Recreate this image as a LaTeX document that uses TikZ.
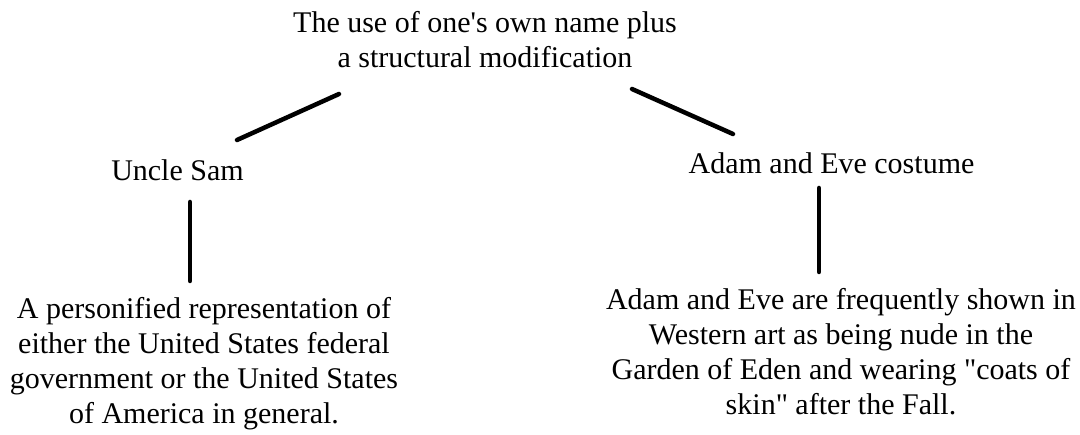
\documentclass[tikz,border=0pt]{standalone}
\usepackage{fontspec}
\setmainfont{Liberation Serif}[Ligatures=TeXOff]
\begin{document}
\begin{tikzpicture}[x=1pt,y=-1pt,
  txt/.style={inner sep=0pt,align=center,font=\fontsize{30}{35}\selectfont},
  conn/.style={line width=4.5pt,line cap=round}]
\useasboundingbox (0,0) rectangle (1080,435);
\node[txt] (top) at (485,40) {The use of one's own name plus\\a structural modification};
\node[txt] (sam) at (177.5,170) {Uncle Sam};
\node[txt] (adam) at (831.5,163) {Adam and Eve costume};
\node[txt] (samd) at (204,364) {A personified representation of\\either the United States federal\\government or the United States\\of America in general.};
\node[txt] (adamd) at (841,352) {Adam and Eve are frequently shown in\\Western art as being nude in the\\Garden of Eden and wearing "coats of\\skin" after the Fall.};
\coordinate (t1) at (339,94);
\coordinate (s1) at (237,140);
\coordinate (t2) at (632,89);
\coordinate (a1) at (733,134);
\coordinate (s2) at (190,202);
\coordinate (s3) at (190,281);
\coordinate (a2) at (819,188);
\coordinate (a3) at (819,272);
\draw[conn] (t1) -- (s1);
\draw[conn] (t2) -- (a1);
\draw[conn] (s2) -- (s3);
\draw[conn] (a2) -- (a3);
\end{tikzpicture}
\end{document}
